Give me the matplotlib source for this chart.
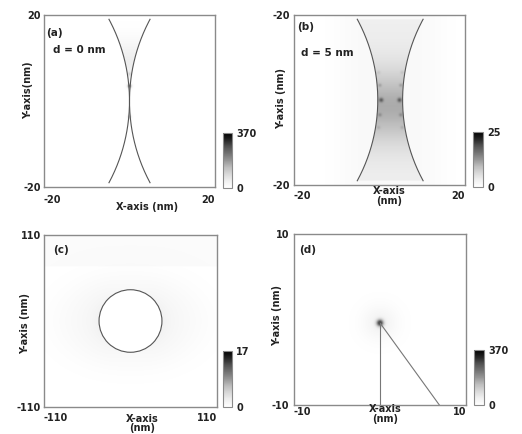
import numpy as np
import matplotlib.pyplot as plt
from matplotlib.patches import Circle

plt.rcParams['font.family'] = ['DejaVu Sans']
plt.rcParams['font.weight'] = 'bold'

W, H = 522, 434
TXT = '#222222'
FRAME = '#8a8a8a'

# panel settings
panel_tags = ['(a)', '(b)', '(c)', '(d)']
gap_texts = ['d = 0 nm', 'd = 5 nm', '', '']
half_range = [20, 20, 110, 10]
xtick_text = [['-20', '20'], ['-20', '20'], ['-110', '110'], ['-10', '10']]
ytick_text = [['-20', '20'], ['-20', '-20'], ['-110', '110'], ['-10', '10']]
xlabels = ['X-axis (nm)', 'X-axis\n(nm)', 'X-axis\n(nm)', 'X-axis\n(nm)']
ylabels = ['Y-axis(nm)', 'Y-axis (nm)', 'Y-axis (nm)', 'Y-axis (nm)']
cbar_max = [370, 25, 17, 370]

# geometry (nm)
R_tip = 40.0          # radius of the two cylinders in (a), (b)
curve_end = 19.0      # curves stop short of the frame
gap_a = (0.0, 0.0)    # left / right edge of gap at y = 0
gap_b = (-0.4, 5.4)
R_circle = 40.0       # particle in (c)
halo_c = (95.0, 62.0)  # half axes of the faint oval round the particle
tip_d = (0.0, -0.4)   # apex of the wedge in (d)
wedge_ends = [(0.0, -10.0), (6.9, -10.0)]

# hot spots: x, y, relative amplitude, width
spots_a = [(0.0, 3.5, 0.6, 0.35), (0.0, -3.7, 0.3, 0.3), (0.0, 6.3, 0.18, 0.3)]
spots_b = [(0.4, 0.0, 0.3, 0.35), (4.7, 0.0, 0.3, 0.35),
           (0.1, 3.5, 0.12, 0.3), (5.0, 3.5, 0.12, 0.3),
           (0.1, -3.5, 0.12, 0.3), (5.0, -3.5, 0.12, 0.3),
           (-0.2, 6.5, 0.08, 0.3), (5.3, 6.5, 0.08, 0.3),
           (-0.2, -6.5, 0.08, 0.3), (5.3, -6.5, 0.08, 0.3)]
spots_d = [(0.0, -0.4, 0.75, 0.3), (0.0, -0.4, 0.1, 1.4)]

# pixel boxes: left, top, right, bottom
ax_boxes = [(44, 15, 215, 187), (294, 15, 465, 185),
            (44, 235, 217, 407), (294, 234, 466, 405)]
cb_boxes = [(223, 133, 232, 188), (473, 132, 483, 187),
            (223, 351, 232, 407), (474, 350, 484, 405)]

# text positions in axes fraction
tag_pos = [(0.012, 0.895), (0.018, 0.93), (0.052, 0.913), (0.03, 0.906)]
gap_pos = [(0.053, 0.797), (0.04, 0.776), None, None]
xlab_pos = [(0.60, -0.116), (0.555, -0.065), (0.566, -0.096), (0.53, -0.053)]
ylab_pos = [(-0.094, 0.564), (-0.076, 0.506), (-0.11, 0.488), (-0.099, 0.526)]
xtick_pad = [6, 4.5, 4, 1.5]
ytick_pad = [2, 3, 2, 3.5]


def rect(b):
    l, t, r, bt = b
    return [l / W, 1 - bt / H, (r - l) / W, (bt - t) / H]


def spot_sum(X, Y, spots):
    F = np.zeros_like(X)
    for sx, sy, a, w in spots:
        F += a * np.exp(-((X - sx) ** 2 + (Y - sy) ** 2) / (2 * w ** 2))
    return F


def bulge(Y):
    Yc = np.clip(np.abs(Y), 0, R_tip)
    return R_tip - np.sqrt(R_tip ** 2 - Yc ** 2)


def field_a(X, Y):
    inside = (X >= gap_a[0] - bulge(Y)) & (X <= gap_a[1] + bulge(Y)) & (np.abs(Y) <= curve_end)
    F = np.where(inside, 0.14 * np.exp(-((Y - 9) / 5) ** 2), 0.0)
    return F + spot_sum(X, Y, spots_a)


def field_b(X, Y):
    inside = (X >= gap_b[0] - bulge(Y)) & (X <= gap_b[1] + bulge(Y)) & (np.abs(Y) <= curve_end)
    out = 0.05 * np.exp(-((X - 2.5) / 12) ** 4)
    F = np.where(inside, 0.13 + 0.3 * np.exp(-((Y + 1.5) / 9) ** 2), out)
    return F + spot_sum(X, Y, spots_b)


def field_c(X, Y):
    r = np.hypot(X, Y)
    c2 = (X / np.maximum(r, 1e-6)) ** 2
    e = (X / halo_c[0]) ** 2 + (Y / halo_c[1]) ** 2
    F = 0.06 * np.exp(-e ** 2) + 0.06 * c2 * np.exp(-np.maximum(r - R_circle, 0) / 12)
    F = np.where(r < R_circle, 0.0, F)
    F += np.where(Y > 70, 0.035, 0.0)
    return F


def field_d(X, Y):
    return spot_sum(X, Y, spots_d)


fields = [field_a, field_b, field_c, field_d]

fig = plt.figure(figsize=(W / 100, H / 100), dpi=100)

for i in range(4):
    L = half_range[i]
    ax = fig.add_axes(rect(ax_boxes[i]))
    g = np.linspace(-L, L, 500)
    X, Y = np.meshgrid(g, g)
    F = np.clip(fields[i](X, Y), 0, 1) * cbar_max[i]
    im = ax.imshow(F, extent=[-L, L, -L, L], origin='lower', cmap='Greys',
                   vmin=0, vmax=cbar_max[i], interpolation='bilinear', aspect='auto')

    if i in (0, 1):
        gl, gr = (gap_a, gap_b)[i]
        yy = np.linspace(-curve_end, curve_end, 200)
        ax.plot(gl - bulge(yy), yy, color='#555555', lw=0.8)
        ax.plot(gr + bulge(yy), yy, color='#555555', lw=0.8)
    if i == 2:
        ax.add_patch(Circle((0, 0), R_circle, fill=False, ec='#555555', lw=0.8))
    if i == 3:
        for ex, ey in wedge_ends:
            ax.plot([tip_d[0], ex], [tip_d[1], ey], color='#777777', lw=0.8)

    ax.set_xlim(-L, L)
    ax.set_ylim(-L, L)
    ax.set_xticks([-L, L])
    ax.set_xticklabels(xtick_text[i])
    ax.set_yticks([-L, L])
    ax.set_yticklabels(ytick_text[i])
    ax.tick_params(length=0, labelsize=7, colors=TXT)
    ax.tick_params(axis='x', pad=xtick_pad[i])
    ax.tick_params(axis='y', pad=ytick_pad[i])
    labs = ax.get_xticklabels()
    labs[0].set_ha('left')
    labs[1].set_ha('right')
    for s in ax.spines.values():
        s.set_color(FRAME)
        s.set_linewidth(1.0)

    ax.text(*tag_pos[i], panel_tags[i], transform=ax.transAxes, fontsize=7.5,
            color=TXT, ha='left', va='center')
    if gap_pos[i]:
        ax.text(*gap_pos[i], gap_texts[i], transform=ax.transAxes, fontsize=7.5,
                color=TXT, ha='left', va='center')
    ax.text(*xlab_pos[i], xlabels[i], transform=ax.transAxes, fontsize=7,
            color=TXT, ha='center', va='center', linespacing=0.95)
    ax.text(*ylab_pos[i], ylabels[i], transform=ax.transAxes, fontsize=7,
            color=TXT, ha='center', va='center', rotation=90)

    cax = fig.add_axes(rect(cb_boxes[i]))
    cb = fig.colorbar(im, cax=cax, ticks=[0, cbar_max[i]])
    cb.ax.tick_params(length=0, labelsize=7, colors=TXT, pad=3)
    cb.outline.set_edgecolor(FRAME)
    cb.outline.set_linewidth(0.8)

fig.savefig('out.png', dpi=100)
